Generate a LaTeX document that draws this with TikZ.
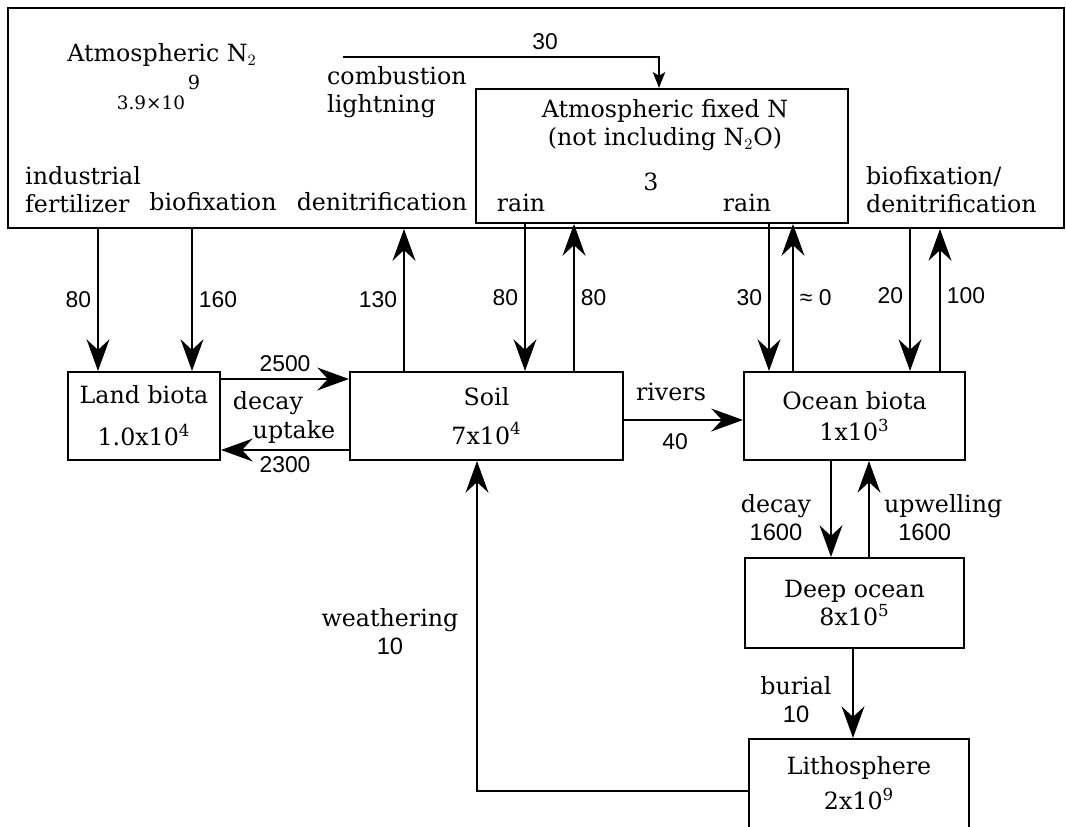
\documentclass[tikz,border=0pt]{standalone}
\usepackage{fontspec}
\setmainfont{DejaVu Serif}
\newfontfamily\numfont{Liberation Sans}
\usetikzlibrary{arrows.meta}

\tikzset{
    caja/.style={draw, line width=1.2pt, inner sep=0pt, align=center},
    flujo/.style={line width=1.2pt, -{Stealth[length=18pt,width=13pt,inset=6pt]}},
    num/.style={font=\numfont\fontsize{13}{15}\selectfont},
}

\begin{document}
\begin{tikzpicture}[x=0.02cm, y=-0.02cm, font=\fontsize{13.5}{16}\selectfont]
    \useasboundingbox (0,0) rectangle (1066,826);
    \clip (0,0) rectangle (1066,826);

    % Cajas
    \node[caja, minimum width=21.12cm, minimum height=4.4cm] (atm) at (536,118) {};
    \node[caja, minimum width=7.44cm, minimum height=2.68cm] (fijo) at (662,156) {};
    \node[caja, minimum width=3.04cm, minimum height=1.76cm] (tierra) at (144,416) {Land biota\\[8pt]1.0x10\textsuperscript{4}};
    \node[caja, minimum width=5.46cm, minimum height=1.76cm] (suelo) at (486.5,416) {Soil\\[6pt]7x10\textsuperscript{4}};
    \node[caja, minimum width=4.42cm, minimum height=1.76cm] (oceano) at (854.5,416) {Ocean biota\\[2pt]1x10\textsuperscript{3}};
    \node[caja, minimum width=4.38cm, minimum height=1.8cm] (profundo) at (854.5,603) {Deep ocean\\8x10\textsuperscript{5}};
    \node[caja, minimum width=4.4cm, minimum height=1.78cm] (lito) at (859,783.5) {Lithosphere\\[4pt]2x10\textsuperscript{9}};

    % Textos de la atmosfera
    \node (n2) at (162,55) {Atmospheric N$_2$};
    \node[font=\fontsize{11}{13}\selectfont] (n2exp) at (194,82) {9};
    \node[font=\fontsize{10.5}{12}\selectfont] (n2val) at (151,103) {3.9×10};
    \node[anchor=west, align=left] (comb) at (321,92) {combustion\\lightning};
    \node[anchor=west, align=left] (indus) at (19,190) {industrial\\fertilizer};
    \node (biofix) at (213,202) {biofixation};
    \node (denit) at (382,202) {denitrification};
    \node[anchor=west, align=left] (biodenit) at (860,190) {biofixation/\\denitrification};
    \node[align=center] (fijolbl) at (665,125) {Atmospheric fixed N\\(not including N$_2$O)};
    \node (fijoval) at (651,182) {3};
    \node (lluvia1) at (521,203) {rain};
    \node (lluvia2) at (747,203) {rain};

    % Combustion y rayos
    \coordinate (comb0) at (343,57);
    \draw[line width=1.2pt, -{Stealth[length=9pt,width=7pt,inset=2pt]}] (comb0) -- (659,57) -- (fijo.north -| 659,0);
    \node[num] (c30) at (545,42) {30};

    % Flujos verticales de la atmosfera
    \draw[flujo] (atm.south -| 98,0) -- (tierra.north -| 98,0) node[num, midway, left] {80};
    \draw[flujo] (atm.south -| 192,0) -- (tierra.north -| 192,0) node[num, midway, right] {160};
    \draw[flujo] (suelo.north -| 404,0) -- (atm.south -| 404,0) node[num, midway, left] {130};
    \draw[flujo] (fijo.south -| 525,0) -- (suelo.north -| 525,0) node[num, midway, left] {80};
    \draw[flujo] (suelo.north -| 574,0) -- (fijo.south -| 574,0) node[num, midway, right] {80};
    \draw[flujo] (fijo.south -| 769,0) -- (oceano.north -| 769,0) node[num, midway, left] {30};
    \draw[flujo] (oceano.north -| 793,0) -- (fijo.south -| 793,0) node[num, midway, right] {≈ 0};
    \draw[flujo] (atm.south -| 910,0) -- (oceano.north -| 910,0) node[num, pos=0.47, left] {20};
    \draw[flujo] (oceano.north -| 940,0) -- (atm.south -| 940,0) node[num, pos=0.53, right] {100};

    % Suelo y biota terrestre
    \draw[flujo] (tierra.east |- 0,379) -- (suelo.west |- 0,379) node[num, midway, above] {2500};
    \draw[flujo] (suelo.west |- 0,450) -- (tierra.east |- 0,450) node[num, midway, below] {2300};
    \node (decay1) at (268,403) {decay};
    \node (uptake) at (294,432) {uptake};

    % Rios
    \draw[flujo] (suelo.east |- 0,420) -- (oceano.west |- 0,420);
    \node (rios) at (671,392) {rivers};
    \node[num] (r40) at (675,442) {40};

    % Oceano profundo
    \draw[flujo] (oceano.south -| 831,0) -- (profundo.north -| 831,0);
    \draw[flujo] (profundo.north -| 869,0) -- (oceano.south -| 869,0);
    \node[align=center] (decay2) at (776,518) {decay\\{\numfont 1600}};
    \node[anchor=west, align=left] (upw) at (878,518) {upwelling\\\hspace*{8pt}{\numfont 1600}};
    \draw[flujo] (profundo.south -| 853,0) -- (lito.north -| 853,0);
    \node[align=center] (burial) at (796,700) {burial\\{\numfont 10}};

    % Meteorizacion
    \coordinate (esq) at (477,791);
    \draw[flujo] (lito.west |- esq) -- (esq) -- (suelo.south -| esq);
    \node[align=center] (weath) at (390,632) {weathering\\{\numfont 10}};
\end{tikzpicture}
\end{document}
